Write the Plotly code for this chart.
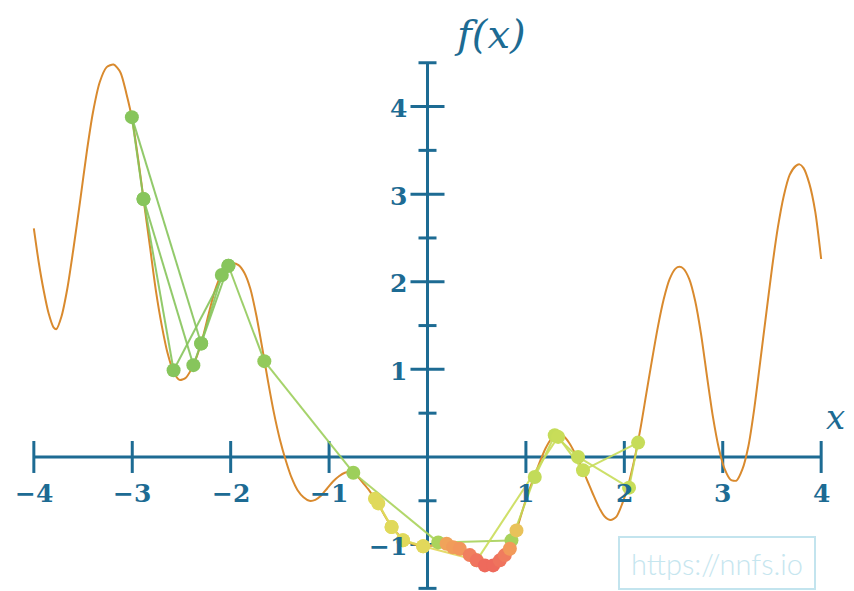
import plotly.graph_objects as go

# ---- data ----
curve_x = [-4.00, -3.95, -3.90, -3.85, -3.80, -3.77, -3.72, -3.66, -3.60, -3.53, -3.46, -3.40,
           -3.33, -3.26, -3.19, -3.12, -3.06, -3.00, -2.94, -2.886, -2.82, -2.76, -2.70, -2.64,
           -2.58, -2.52, -2.46, -2.40, -2.34, -2.28, -2.22, -2.16, -2.10, -2.04, -1.98, -1.92,
           -1.86, -1.80, -1.74, -1.68, -1.62, -1.56, -1.50, -1.44, -1.38, -1.32, -1.26, -1.20,
           -1.14, -1.08, -1.02, -0.96, -0.90, -0.84, -0.78, -0.72, -0.66, -0.60, -0.54, -0.48,
           -0.42, -0.36, -0.30, -0.24, -0.18, -0.10, -0.02, 0.06, 0.14, 0.22, 0.30, 0.38,
           0.46, 0.54, 0.60, 0.66, 0.72, 0.78, 0.84, 0.90, 0.96, 1.02, 1.08, 1.14,
           1.20, 1.26, 1.32, 1.38, 1.44, 1.50, 1.56, 1.62, 1.68, 1.74, 1.80, 1.86,
           1.92, 1.98, 2.04, 2.10, 2.16, 2.22, 2.28, 2.34, 2.40, 2.46, 2.52, 2.56,
           2.60, 2.66, 2.72, 2.78, 2.84, 2.90, 2.96, 3.02, 3.08, 3.14, 3.20, 3.26,
           3.32, 3.38, 3.44, 3.50, 3.56, 3.62, 3.68, 3.74, 3.78, 3.82, 3.88, 3.94, 4.00]
curve_y = [2.61, 2.22, 1.90, 1.64, 1.48, 1.46, 1.60, 1.92, 2.36, 2.92, 3.50, 3.93,
           4.28, 4.45, 4.48, 4.39, 4.15, 3.85, 3.40, 2.95, 2.40, 1.90, 1.50, 1.18,
           0.97, 0.88, 0.90, 1.00, 1.16, 1.38, 1.65, 1.90, 2.07, 2.17, 2.21, 2.19,
           2.10, 1.92, 1.62, 1.25, 0.86, 0.50, 0.20, -0.04, -0.24, -0.38, -0.46, -0.50,
           -0.49, -0.44, -0.36, -0.28, -0.22, -0.18, -0.17, -0.21, -0.29, -0.37, -0.47, -0.58,
           -0.70, -0.80, -0.88, -0.94, -0.98, -1.01, -1.02, -1.01, -1.00, -1.00, -1.03, -1.08,
           -1.15, -1.22, -1.25, -1.25, -1.21, -1.13, -1.02, -0.85, -0.63, -0.42, -0.24, -0.06,
           0.10, 0.21, 0.26, 0.24, 0.16, 0.04, -0.10, -0.26, -0.42, -0.57, -0.68, -0.72,
           -0.68, -0.53, -0.32, -0.04, 0.30, 0.70, 1.10, 1.48, 1.80, 2.03, 2.15, 2.17,
           2.15, 2.03, 1.78, 1.40, 0.92, 0.46, 0.10, -0.14, -0.26, -0.27, -0.14, 0.12,
           0.55, 1.08, 1.62, 2.15, 2.62, 2.98, 3.22, 3.32, 3.34, 3.30, 3.12, 2.80, 2.26]

path_x = [-2.886, -3.004, -2.300, -2.379, -2.886, -2.580, -2.023, -2.090, -2.300, -2.023,
          -1.658, -0.754, 0.109, 0.853, 1.090, 1.293, 1.530, 2.048, 2.140, 1.580, 1.327, 0.500,
          -0.044, -0.250, -0.365, -0.534, -0.500, -0.365, -0.250, -0.044,
          0.194, 0.260, 0.328, 0.430, 0.500, 0.583, 0.667, 0.735, 0.786, 0.837, 0.904]
path_y = [2.945, 3.879, 1.296, 1.048, 2.945, 0.990, 2.183, 2.077, 1.296, 2.183,
          1.094, -0.180, -0.975, -0.952, -0.229, 0.248, 0.000, -0.350, 0.164, -0.152, 0.229, -1.180,
          -1.020, -0.950, -0.800, -0.476, -0.530, -0.800, -0.950, -1.020,
          -0.990, -1.030, -1.047, -1.120, -1.180, -1.238, -1.238, -1.180, -1.120, -1.047, -0.838]
path_color = ['#87c55c'] * 10 + [
    '#93ca5b', '#9dcf5b', '#aad35b', '#a8d25b', '#c2db59', '#c5dc59', '#c6dc59', '#c8dd59',
    '#c6dc59', '#c8dd59', '#c8dd59', '#cbdd59',
    '#e2d85b', '#e0d95b', '#dfd95b', '#dfda5c', '#e0d95b', '#e0d95b', '#e0d95b', '#e2d85b',
    '#f0a35a', '#f19c5a', '#f2965c', '#f07f5e', '#f0745e', '#ee6a5c', '#ee6a5c', '#ef735d',
    '#f07c5e', '#f29a5a', '#e9c25a']

x_ticks = [-4, -3, -2, -1, 1, 2, 3, 4]
x_tick_labels = ['\u22124', '\u22123', '\u22122', '\u22121', '1', '2', '3', '4']
y_ticks = [-1, 1, 2, 3, 4]
y_tick_labels = ['\u22121', '1', '2', '3', '4']
y_half_ticks = [-1.5, -0.5, 0.5, 1.5, 2.5, 3.5, 4.5]

AX = '#1d6b93'
FONT = 'DejaVu Serif'

fig = go.Figure()
fig.add_trace(go.Scatter(x=curve_x, y=curve_y, mode='lines',
                         line=dict(color='#d98a2e', width=2, shape='spline', smoothing=0.7),
                         hoverinfo='skip'))
for i in range(len(path_x) - 1):
    fig.add_trace(go.Scatter(x=path_x[i:i + 2], y=path_y[i:i + 2], mode='lines',
                             line=dict(color=path_color[i + 1], width=2), opacity=0.9,
                             hoverinfo='skip'))
fig.add_trace(go.Scatter(x=path_x, y=path_y, mode='markers',
                         marker=dict(color=path_color, size=14, line=dict(width=0))))

shapes = [
    dict(type='line', xref='x', yref='y', x0=-4, x1=4, y0=0, y1=0,
         line=dict(color=AX, width=3), layer='below'),
    dict(type='line', xref='x', yref='y', x0=0, x1=0, y0=-1.5, y1=4.5,
         line=dict(color=AX, width=3), layer='below'),
]
for t in x_ticks:
    shapes.append(dict(type='line', xref='x', yref='y', x0=t, x1=t, ysizemode='pixel',
                       yanchor=0, y0=-16, y1=16, line=dict(color=AX, width=3), layer='below'))
for t in y_ticks:
    shapes.append(dict(type='line', xref='x', yref='y', y0=t, y1=t, xsizemode='pixel',
                       xanchor=0, x0=-17, x1=17, line=dict(color=AX, width=3), layer='below'))
for t in y_half_ticks:
    shapes.append(dict(type='line', xref='x', yref='y', y0=t, y1=t, xsizemode='pixel',
                       xanchor=0, x0=-9, x1=9, line=dict(color=AX, width=3), layer='below'))

ann = []
for t, lab in zip(x_ticks, x_tick_labels):
    ann.append(dict(x=t, y=0, xref='x', yref='y', text='<b>' + lab + '</b>', showarrow=False,
                    yshift=-37, font=dict(family=FONT, size=25, color=AX)))
for t, lab in zip(y_ticks, y_tick_labels):
    ann.append(dict(x=0, y=t, xref='x', yref='y', text='<b>' + lab + '</b>', showarrow=False,
                    xanchor='right', xshift=-19, yshift=-2,
                    font=dict(family=FONT, size=25, color=AX)))
ann.append(dict(x=0.63, y=4.5, xref='x', yref='y', text='<i>f(x)</i>', showarrow=False,
                yshift=29, font=dict(family=FONT, size=40, color=AX)))
ann.append(dict(x=4, y=0, xref='x', yref='y', text='<i>x</i>', showarrow=False,
                xshift=14, yshift=40, font=dict(family=FONT, size=34, color=AX)))
ann.append(dict(x=2.94, y=-1.213, xref='x', yref='y', text='https://nnfs.io', showarrow=False,
                width=192, height=48, bordercolor='#c3e4ee', borderwidth=2,
                font=dict(family='Lato', size=29, color='#c6e6ef', weight=300)))

# the page body has an 8px margin, so the figure is shrunk and its margins reduced by 8px
fig.update_layout(
    width=846, height=583,
    margin=dict(l=16, r=23, t=46, b=0),
    paper_bgcolor='white', plot_bgcolor='white',
    showlegend=False,
    xaxis=dict(range=[-4.1, 4.1], visible=False),
    yaxis=dict(range=[-1.53, 4.6], visible=False),
    shapes=shapes, annotations=ann,
)
fig.write_html('out.html')
